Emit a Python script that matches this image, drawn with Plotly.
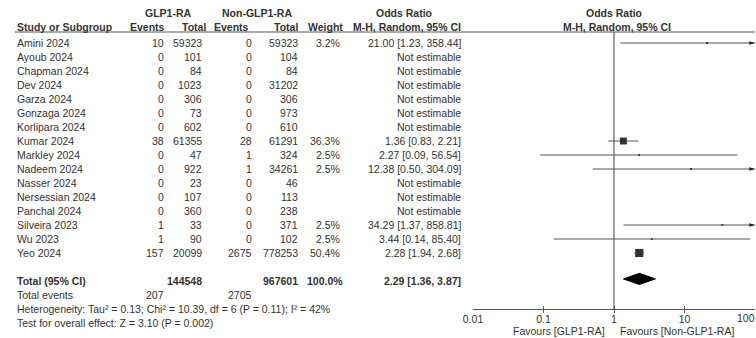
import plotly.graph_objects as go
import math

W, H = 756, 338

studies = ["Amini 2024", "Ayoub 2024", "Chapman 2024", "Dev 2024", "Garza 2024", "Gonzaga 2024",
           "Korlipara 2024", "Kumar 2024", "Markley 2024", "Nadeem 2024", "Nasser 2024",
           "Nersessian 2024", "Panchal 2024", "Silveira 2023", "Wu 2023", "Yeo 2024"]
glp_events = [10, 0, 0, 0, 0, 0, 0, 38, 0, 0, 0, 0, 0, 1, 1, 157]
glp_total = [59323, 101, 84, 1023, 306, 73, 602, 61355, 47, 922, 23, 107, 360, 33, 90, 20099]
non_events = [0, 0, 0, 0, 0, 0, 0, 28, 1, 1, 0, 0, 0, 0, 0, 2675]
non_total = [59323, 104, 84, 31202, 306, 973, 610, 61291, 324, 34261, 46, 113, 238, 371, 102, 778253]
weights = [3.2, None, None, None, None, None, None, 36.3, 2.5, 2.5, None, None, None, 2.5, 2.5, 50.4]
odds = [21.00, None, None, None, None, None, None, 1.36, 2.27, 12.38, None, None, None, 34.29, 3.44, 2.28]
ci_low = [1.23, None, None, None, None, None, None, 0.83, 0.09, 0.50, None, None, None, 1.37, 0.14, 1.94]
ci_high = [358.44, None, None, None, None, None, None, 2.21, 56.54, 304.09, None, None, None, 858.81, 85.40, 2.68]

total_glp = 144548
total_non = 967601
total_weight = "100.0%"
pooled_or = 2.29
pooled_low = 1.36
pooled_high = 3.87
events_glp = 207
events_non = 2705
heterogeneity = "Heterogeneity: Tau² = 0.13; Chi² = 10.39, df = 6 (P = 0.11); I² = 42%"
overall = "Test for overall effect: Z = 3.10 (P = 0.002)"
tick_vals = [0.01, 0.1, 1, 10, 100]
tick_text = ["0.01", "0.1", "1", "10", "100"]
axis_min, axis_max = 0.01, 100

FONT = "Arial, Liberation Sans, sans-serif"
TXT = "#333333"
FS = 10.5

# layout in window pixels
ROW0, STEP = 43.0, 14.0
AXIS_PX = 309
TOP_PX = 32
PLOT_X0, PLOT_X1 = 473, 755

def px_x(px):
    return px / W

def px_y(py):
    return 1 - py / H

def row_px(r):
    return ROW0 + STEP * r

def row_of(py):
    return (py - ROW0) / STEP

fig = go.Figure()
ann = []

def txt(px, py, s, anchor="right", bold=False, size=FS):
    ann.append(dict(x=px_x(px), y=px_y(py), xref="paper", yref="paper",
                    text=f"<b>{s}</b>" if bold else s,
                    showarrow=False, xanchor=anchor, yanchor="middle",
                    font=dict(family=FONT, size=size, color=TXT)))

# headers
hr1, hr2 = 13, 27
txt(168, hr1, "GLP1-RA", "center", True)
txt(257, hr1, "Non-GLP1-RA", "center", True)
txt(404, hr1, "Odds Ratio", "center", True)
txt(614, hr1, "Odds Ratio", "center", True)
txt(15, hr2, "Study or Subgroup", "left", True)
txt(167, hr2, "Events", "right", True)
txt(208, hr2, "Total", "right", True)
txt(251, hr2, "Events", "right", True)
txt(300, hr2, "Total", "right", True)
txt(345, hr2, "Weight", "right", True)
txt(463, hr2, "M-H, Random, 95% CI", "right", True)
txt(617, hr2, "M-H, Random, 95% CI", "center", True)

for i, s in enumerate(studies):
    y = row_px(i)
    txt(15, y, s, "left")
    txt(166, y, str(glp_events[i]))
    txt(204, y, str(glp_total[i]))
    txt(254, y, str(non_events[i]))
    txt(300, y, str(non_total[i]))
    if weights[i] is not None:
        txt(342, y, f"{weights[i]:.1f}%")
        txt(463, y, f"{odds[i]:.2f} [{ci_low[i]:.2f}, {ci_high[i]:.2f}]")
    else:
        txt(463, y, "Not estimable")

n = len(studies)
tr = n + 1
y = row_px(tr)
txt(15, y, "Total (95% CI)", "left", True)
txt(204, y, str(total_glp), bold=True)
txt(300, y, str(total_non), bold=True)
txt(345, y, total_weight, bold=True)
txt(463, y, f"{pooled_or:.2f} [{pooled_low:.2f}, {pooled_high:.2f}]", bold=True)
y = row_px(tr + 1)
txt(15, y, "Total events", "left")
txt(166, y, str(events_glp))
txt(254, y, str(events_non))
txt(15, row_px(tr + 2), heterogeneity, "left")
txt(15, row_px(tr + 3), overall, "left")

# favours labels
txt(607, 331, "Favours [GLP1-RA]", "right")
txt(618, 331, "Favours [Non-GLP1-RA]", "left")

# last tick label kept inside the window (right-aligned at the edge)
txt(757, 318, tick_text[-1], "right")
axis_ticktext = tick_text[:-1] + [""]

axis_row = row_of(AXIS_PX)
top_row = row_of(TOP_PX)

shapes = [dict(type="line", xref="paper", yref="paper", x0=px_x(15), x1=px_x(755),
               y0=px_y(TOP_PX), y1=px_y(TOP_PX), line=dict(color="#555555", width=1))]

# line of no effect
fig.add_trace(go.Scatter(x=[1, 1], y=[top_row, axis_row], mode="lines",
                         line=dict(color="#777777", width=1.4), hoverinfo="skip", showlegend=False))

# CI lines, points and arrows
for i in range(n):
    if odds[i] is None:
        continue
    lo = max(ci_low[i], axis_min)
    hi = min(ci_high[i], axis_max)
    fig.add_trace(go.Scatter(x=[lo, hi], y=[i, i], mode="lines",
                             line=dict(color="#555555", width=1), hoverinfo="skip", showlegend=False))
    if ci_high[i] > axis_max:
        fig.add_trace(go.Scatter(x=[axis_max], y=[i], mode="markers", cliponaxis=False,
                                 marker=dict(symbol="arrow", angle=90, size=6, color="#222222",
                                             line=dict(width=0)),
                                 hoverinfo="skip", showlegend=False))
    sz = 1.15 * math.sqrt(weights[i])
    fig.add_trace(go.Scatter(x=[odds[i]], y=[i], mode="markers",
                             marker=dict(symbol="square", size=sz, color="#333333", line=dict(width=0)),
                             hoverinfo="skip", showlegend=False))

# pooled diamond
dh = 0.4
yc = tr - 0.15
fig.add_trace(go.Scatter(x=[pooled_low, pooled_or, pooled_high, pooled_or, pooled_low],
                         y=[yc, yc - dh, yc, yc + dh, yc],
                         mode="lines", fill="toself", fillcolor="#000000",
                         line=dict(color="#000000", width=1), hoverinfo="skip", showlegend=False))

fig.update_layout(
    width=W, height=H, margin=dict(l=0, r=0, t=0, b=0, autoexpand=False),
    paper_bgcolor="white", plot_bgcolor="rgba(0,0,0,0)",
    showlegend=False,
    annotations=ann, shapes=shapes,
    xaxis=dict(type="log", domain=[px_x(PLOT_X0), px_x(PLOT_X1)], range=[-2, 2],
               anchor="y", automargin=False,
               showline=True, linecolor="#555555", linewidth=1,
               ticks="inside", ticklen=3, tickcolor="#555555", tickwidth=1,
               minor=dict(tickvals=tick_vals, ticks="outside", ticklen=3, tickcolor="#555555",
                          showgrid=False),
               tickvals=tick_vals, ticktext=axis_ticktext, showgrid=False, zeroline=False,
               ticklabeloverflow="allow",
               tickfont=dict(family=FONT, size=FS, color=TXT)),
    yaxis=dict(range=[axis_row, row_of(0)], domain=[px_y(AXIS_PX), 1], visible=False,
               automargin=False),
)

fig.write_html("out.html", config={"displayModeBar": False},
               post_script="document.body.style.margin='0';document.body.style.overflow='hidden';")
